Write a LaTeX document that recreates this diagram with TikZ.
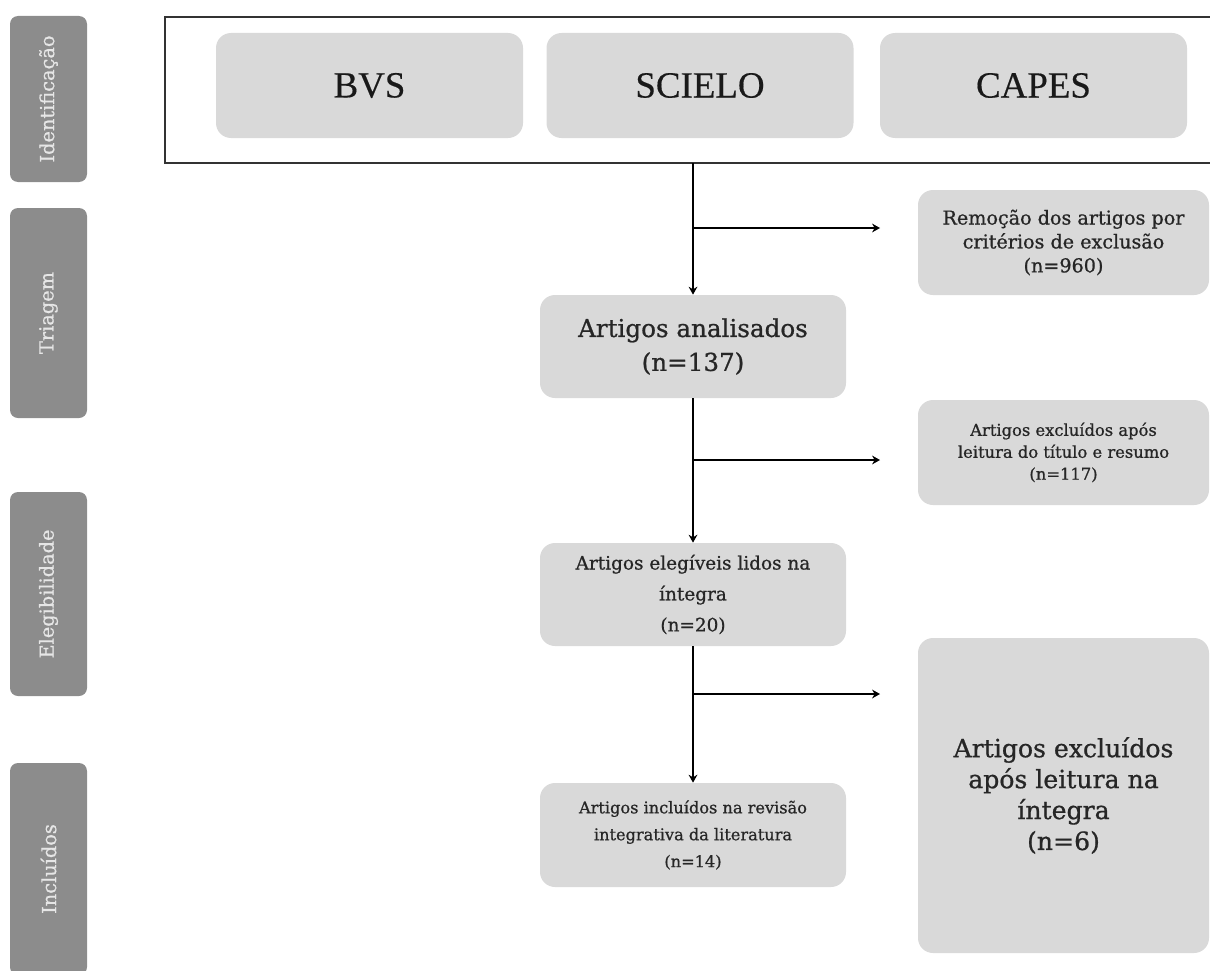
\documentclass[tikz,border=0pt]{standalone}
\usepackage{fontspec}
\setmainfont{DejaVu Serif}[FakeBold=0.8]
\newfontfamily\timesfont{Liberation Serif}[FakeBold=0.4]
\usetikzlibrary{shapes.geometric, arrows, arrows.meta, calc}
\definecolor{boxgrey}{HTML}{D9D9D9}
\definecolor{phasegrey}{HTML}{8C8C8C}
\definecolor{phasetext}{HTML}{E6E6E6}
\definecolor{inkgrey}{HTML}{262626}

\begin{document}
\begin{tikzpicture}
    \tikzstyle{phase} = [rectangle, rounded corners=0.16cm, fill=phasegrey, text=phasetext, minimum height=1.54cm, inner sep=0pt, font=\fontsize{11}{13}\selectfont]
    \tikzstyle{dbbox} = [rectangle, rounded corners=0.3cm, minimum width=6.14cm, minimum height=2.1cm, text centered, fill=boxgrey, text=black!90, font=\timesfont\fontsize{21}{24}\selectfont]
    \tikzstyle{process} = [rectangle, rounded corners=0.3cm, minimum width=6.12cm, minimum height=2.06cm, align=center, fill=boxgrey, text=inkgrey]
    \tikzstyle{exclusion} = [rectangle, rounded corners=0.3cm, minimum width=5.82cm, minimum height=2.1cm, align=center, fill=boxgrey, text=inkgrey]
    \tikzstyle{frame} = [draw=black!80, line width=1.2pt]
    \tikzstyle{arrow} = [line width=1.1pt,->,>={Stealth[length=4.5pt,width=5pt]}]

    \useasboundingbox (0,0) rectangle (24.2,-19.4);

    % phases on the left
    \node (ident) [phase, minimum width=3.32cm, rotate=90] at (0.97,-1.98) {Identificação};
    \node (triagem) [phase, minimum width=4.2cm, rotate=90] at (0.97,-6.26) {Triagem};
    \node (eleg) [phase, minimum width=4.08cm, rotate=90] at (0.97,-11.88) {Elegibilidade};
    \node (incl) [phase, minimum width=4.24cm, rotate=90] at (0.97,-17.38) {Incluídos};

    % databases
    \draw [frame] (24.3,-0.34) -- (3.3,-0.34) -- (3.3,-3.26) -- (24.3,-3.26);
    \coordinate (fr) at (13.86,-3.26);
    \node (bvs) [dbbox] at (7.39,-1.71) {BVS};
    \node (scielo) [dbbox, right of=bvs, xshift=5.61cm] {SCIELO};
    \node (capes) [dbbox, right of=scielo, xshift=5.67cm] {CAPES};

    % main column
    \node (analisados) [process, font=\fontsize{14}{19.3}\selectfont] at (13.86,-6.93) {Artigos analisados\\(n=137)};
    \node (elegiveis) [process, below of=analisados, yshift=-3.96cm, font=\fontsize{10.5}{17.6}\selectfont] {Artigos elegíveis lidos na\\íntegra\\(n=20)};
    \node (incluidos) [process, below of=elegiveis, yshift=-3.81cm, minimum height=2.08cm, font=\fontsize{9.2}{15.3}\selectfont] {Artigos incluídos na revisão\\integrativa da literatura\\(n=14)};

    % exclusions
    \node (remocao) [exclusion, font=\fontsize{10.9}{13.6}\selectfont] at (21.27,-4.85) {Remoção dos artigos por\\critérios de exclusão\\(n=960)};
    \node (titulo) [exclusion, below of=remocao, yshift=-3.2cm, font=\fontsize{9.3}{12.5}\selectfont] {Artigos excluídos após\\leitura do título e resumo\\(n=117)};
    \node (integra) [exclusion, below of=titulo, yshift=-5.86cm, minimum height=6.3cm, font=\fontsize{14.3}{17.6}\selectfont] {Artigos excluídos\\após leitura na\\íntegra\\(n=6)};

    \coordinate (t1) at (13.86,-4.56);
    \coordinate (h1) at (17.6,-4.56);
    \coordinate (t2) at (13.86,-9.2);
    \coordinate (h2) at (17.6,-9.2);
    \coordinate (t3) at (13.86,-13.88);
    \coordinate (h3) at (17.6,-13.88);

    \draw [arrow] (fr) -- (analisados);
    \draw [arrow] (analisados) -- (elegiveis);
    \draw [arrow] (elegiveis) -- (incluidos);
    \draw [arrow] (t1) -- (h1);
    \draw [arrow] (t2) -- (h2);
    \draw [arrow] (t3) -- (h3);
  \end{tikzpicture}
\end{document}
